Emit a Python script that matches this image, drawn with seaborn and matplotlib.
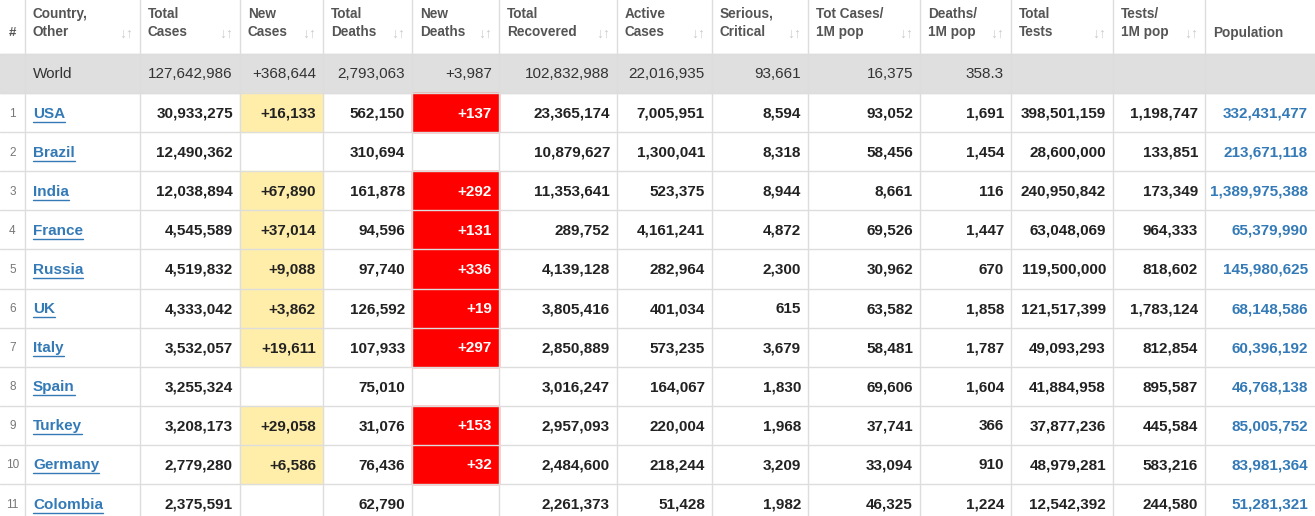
import matplotlib
matplotlib.use("Agg")
import matplotlib.pyplot as plt
import seaborn as sns
from matplotlib.patches import Rectangle

sns.set_style("white")
plt.rcParams['font.family'] = ['Liberation Sans', 'DejaVu Sans']

headers = ["#", "Country,\nOther", "Total\nCases", "New\nCases", "Total\nDeaths", "New\nDeaths",
           "Total\nRecovered", "Active\nCases", "Serious,\nCritical", "Tot Cases/\n1M pop",
           "Deaths/\n1M pop", "Total\nTests", "Tests/\n1M pop", "Population"]
col_edges = [0, 25, 140, 240, 323, 412, 499, 617, 712, 808, 920, 1011, 1113, 1205, 1315]

world = ["", "World", "127,642,986", "+368,644", "2,793,063", "+3,987", "102,832,988",
         "22,016,935", "93,661", "16,375", "358.3", "", "", ""]
countries = ["USA", "Brazil", "India", "France", "Russia", "UK", "Italy", "Spain", "Turkey", "Germany", "Colombia"]
total_cases = ["30,933,275", "12,490,362", "12,038,894", "4,545,589", "4,519,832", "4,333,042",
               "3,532,057", "3,255,324", "3,208,173", "2,779,280", "2,375,591"]
new_cases = ["+16,133", "", "+67,890", "+37,014", "+9,088", "+3,862", "+19,611", "", "+29,058", "+6,586", ""]
total_deaths = ["562,150", "310,694", "161,878", "94,596", "97,740", "126,592", "107,933", "75,010",
                "31,076", "76,436", "62,790"]
new_deaths = ["+137", "", "+292", "+131", "+336", "+19", "+297", "", "+153", "+32", ""]
recovered = ["23,365,174", "10,879,627", "11,353,641", "289,752", "4,139,128", "3,805,416",
             "2,850,889", "3,016,247", "2,957,093", "2,484,600", "2,261,373"]
active = ["7,005,951", "1,300,041", "523,375", "4,161,241", "282,964", "401,034", "573,235",
          "164,067", "220,004", "218,244", "51,428"]
serious = ["8,594", "8,318", "8,944", "4,872", "2,300", "615", "3,679", "1,830", "1,968", "3,209", "1,982"]
cases_1m = ["93,052", "58,456", "8,661", "69,526", "30,962", "63,582", "58,481", "69,606",
            "37,741", "33,094", "46,325"]
deaths_1m = ["1,691", "1,454", "116", "1,447", "670", "1,858", "1,787", "1,604", "366", "910", "1,224"]
tests = ["398,501,159", "28,600,000", "240,950,842", "63,048,069", "119,500,000", "121,517,399",
         "49,093,293", "41,884,958", "37,877,236", "48,979,281", "12,542,392"]
tests_1m = ["1,198,747", "133,851", "173,349", "964,333", "818,602", "1,783,124", "812,854",
            "895,587", "445,584", "583,216", "244,580"]
population = ["332,431,477", "213,671,118", "1,389,975,388", "65,379,990", "145,980,625",
              "68,148,586", "60,396,192", "46,768,138", "85,005,752", "83,981,364", "51,281,321"]

W, H = 1315, 516
fig = plt.figure(figsize=(W / 100, H / 100), dpi=100)
ax = fig.add_axes([0, 0, 1, 1])
ax.set_xlim(0, W)
ax.set_ylim(H, 0)
ax.axis("off")

grid = "#dddddd"
header_h, row_h = 54, 39.1
for i, h in enumerate(headers):
    x0, x1 = col_edges[i], col_edges[i + 1]
    if i == 0:
        ax.text((x0 + x1) / 2, 33, h, ha="center", va="center", fontsize=9.5, color="#555555", weight="bold")
    elif i == 13:
        ax.text(x0 + 8, 33, h, ha="left", va="center", fontsize=9.8, color="#555555", weight="bold")
    else:
        ax.text(x0 + 8, 23, h, ha="left", va="center", fontsize=9.8, color="#555555",
                weight="bold", linespacing=1.45)
        ax.text(x1 - 7, 34, "↓↑", ha="right", va="center", fontsize=10, color="#cccccc", weight="bold")

y0 = header_h
ax.add_patch(Rectangle((0, y0), W, 39, color="#dfdfdf", zorder=0))
for i, v in enumerate(world):
    x0, x1 = col_edges[i], col_edges[i + 1]
    if i == 1:
        ax.text(x0 + 8, y0 + 19.5, v, ha="left", va="center", fontsize=11, color="#333333")
    elif v:
        ax.text(x1 - 7, y0 + 19.5, v, ha="right", va="center", fontsize=11, color="#333333")

fig.canvas.draw()
renderer = fig.canvas.get_renderer()
inv = ax.transData.inverted()

rows = list(zip(countries, total_cases, new_cases, total_deaths, new_deaths, recovered, active,
                serious, cases_1m, deaths_1m, tests, tests_1m, population))
for r, row in enumerate(rows):
    top = header_h + 39 + r * row_h
    cy = top + row_h / 2 + 1
    ax.text(12.5, cy, str(r + 1), ha="center", va="center", fontsize=8.5, color="#777777")
    for j, v in enumerate(row):
        i = j + 1
        x0, x1 = col_edges[i], col_edges[i + 1]
        if i == 3 and v:
            ax.add_patch(Rectangle((x0, top), x1 - x0, row_h, color="#ffeeaa", zorder=0))
        if i == 5 and v:
            ax.add_patch(Rectangle((x0, top), x1 - x0, row_h, color="#ff0000", zorder=0))
        if i == 1:
            t = ax.text(x0 + 8, cy, v, ha="left", va="center", fontsize=11, color="#337ab7", weight="bold")
            bb = t.get_window_extent(renderer)
            xa = inv.transform((bb.x0, bb.y0))[0]
            xb = inv.transform((bb.x1, bb.y0))[0]
            ax.plot([xa, xb], [cy + 8, cy + 8], color="#337ab7", lw=1)
        elif i == 13:
            ax.text(x1 - 7, cy, v, ha="right", va="center", fontsize=11, color="#337ab7", weight="bold")
        elif v:
            col = "white" if i == 5 else "#222222"
            ax.text(x1 - 7, cy, v, ha="right", va="center", fontsize=11, color=col, weight="bold")

for x in col_edges[1:-1]:
    ax.plot([x, x], [0, H], color=grid, lw=1, zorder=3)
ys = [header_h, header_h + 39] + [header_h + 39 + (k + 1) * row_h for k in range(11)]
for y in ys:
    ax.plot([0, W], [y, y], color=grid, lw=1, zorder=3)

fig.savefig("out.png", dpi=100)
